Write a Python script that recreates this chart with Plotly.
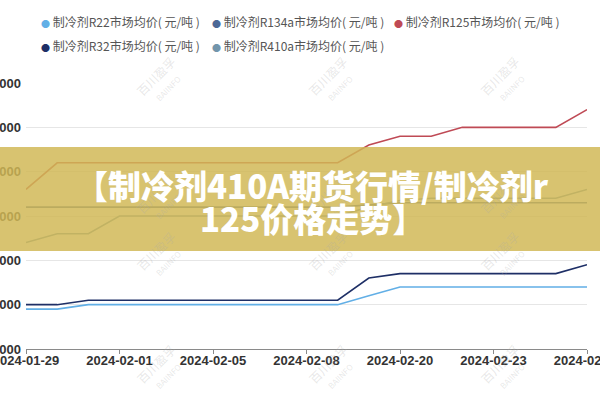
import plotly.graph_objects as go

# ---------------- data ----------------
dates = ["2024-01-29", "2024-01-30", "2024-01-31", "2024-02-01", "2024-02-02",
         "2024-02-04", "2024-02-05", "2024-02-06", "2024-02-07", "2024-02-08",
         "2024-02-09", "2024-02-19", "2024-02-20", "2024-02-21", "2024-02-22",
         "2024-02-23", "2024-02-26", "2024-02-27", "2024-02-28"]
tick_dates = dates[::3]

r22 = [19000, 19000, 20000, 20000, 20000, 20000, 20000, 20000, 20000, 20000,
       20000, 22000, 24000, 24000, 24000, 24000, 24000, 24000, 24000]
r134a = [42000, 42000, 42000, 42000, 42000, 42000, 42000, 42000, 42000, 42000,
         42000, 42500, 43000, 43000, 43000, 43000, 43000, 43000, 43000]
r125 = [46000, 52000, 52000, 52000, 52000, 52000, 52000, 52000, 52000, 52000,
        52000, 56000, 58000, 58000, 60000, 60000, 60000, 60000, 64000]
r32 = [20000, 20000, 21000, 21000, 21000, 21000, 21000, 21000, 21000, 21000,
       21000, 26000, 27000, 27000, 27000, 27000, 27000, 27000, 29000]
r410a = [34000, 36000, 36000, 40000, 40000, 40000, 40000, 40000, 40000, 40000,
         40000, 42000, 43500, 44000, 44000, 44000, 44000, 44000, 46000]

series_names = ["制冷剂R22市场均价( 元/吨 )", "制冷剂R134a市场均价( 元/吨 )",
                "制冷剂R125市场均价( 元/吨 )", "制冷剂R32市场均价( 元/吨 )",
                "制冷剂R410a市场均价( 元/吨 )"]
series_values = [r22, r134a, r125, r32, r410a]
series_colors = ["#62afe6", "#4d6896", "#bf4a55", "#1e2f66", "#7295ab"]

title_lines = ["【制冷剂410A期货行情/制冷剂r", "125价格走势】"]
watermark_text = "百川盈孚"
watermark_sub = "BAIINFO"

# ---------------- layout geometry ----------------
W, H = 600, 400
ML, MR, MT, MB = 26, 13, 83, 51
PW, PH = W - ML - MR, H - MT - MB


def px(x):
    return (x - ML) / PW


def py(y):
    return (H - MB - y) / PH


fig = go.Figure()
for name, vals, col in zip(series_names, series_values, series_colors):
    fig.add_trace(go.Scatter(x=dates, y=vals, name=name, mode="lines",
                             line=dict(color=col, width=1.6), showlegend=False))

annotations = []
# legend as annotations
legend_pos = [(39, 22), (210, 22), (392, 22), (39, 46), (210, 46)]
for (lx, ly), name, col in zip(legend_pos, series_names, series_colors):
    annotations.append(dict(
        x=px(lx), y=py(ly), xref="paper", yref="paper", xanchor="left", yanchor="middle",
        showarrow=False,
        text=f'<span style="color:{col};font-size:9px">●</span> {name}',
        font=dict(family="Noto Sans CJK SC", size=12, color="#555555")))

# watermarks
for wy in [50, 168, 287, 400]:
    for wx in [130, 333, 536]:
        annotations.append(dict(
            x=px(wx), y=py(wy), xref="paper", yref="paper", showarrow=False,
            textangle=-45,
            text=f'{watermark_text}<br><span style="font-size:8px">{watermark_sub}</span>',
            font=dict(family="Noto Sans CJK SC", size=12, color="rgba(170,170,170,0.28)")))

# banner title
for (tx, ty), t in zip([(312, 185), (312, 218)], title_lines):
    annotations.append(dict(
        x=px(tx), y=py(ty), xref="paper", yref="paper", xanchor="center", yanchor="middle",
        showarrow=False, text=t,
        font=dict(family="Noto Sans CJK SC", size=33, color="white", weight=900)))

fig.update_layout(
    width=W, height=H,
    margin=dict(l=ML, r=MR, t=MT, b=MB, autoexpand=False),
    paper_bgcolor="white", plot_bgcolor="white",
    showlegend=False,
    annotations=annotations,
    shapes=[dict(type="rect", xref="paper", yref="paper",
                 x0=px(-5), x1=px(W + 5), y0=py(251), y1=py(147),
                 fillcolor="#d1b855", opacity=0.84, line=dict(width=0), layer="above")],
    xaxis=dict(type="category", range=[0, len(dates) - 1], automargin=False,
               tickmode="array", tickvals=tick_dates, ticktext=tick_dates,
               showgrid=False, showline=True, linecolor="#8a8a8a", linewidth=1,
               ticks="outside", ticklen=4, tickcolor="#8a8a8a",
               ticklabeloverflow="allow", ticklabelstandoff=-5,
               tickfont=dict(family="Liberation Sans", size=13, color="#333333", weight="bold")),
    yaxis=dict(range=[10000, 70000], dtick=10000, tick0=10000, tickformat="d",
               automargin=False,
               showgrid=True, gridcolor="#e6e6e6", gridwidth=1,
               zeroline=False, showline=False, ticks="",
               ticklabeloverflow="allow", ticklabelstandoff=4,
               tickfont=dict(family="Liberation Sans", size=13, color="#333333", weight="bold")),
)

fig.write_html("out.html")
